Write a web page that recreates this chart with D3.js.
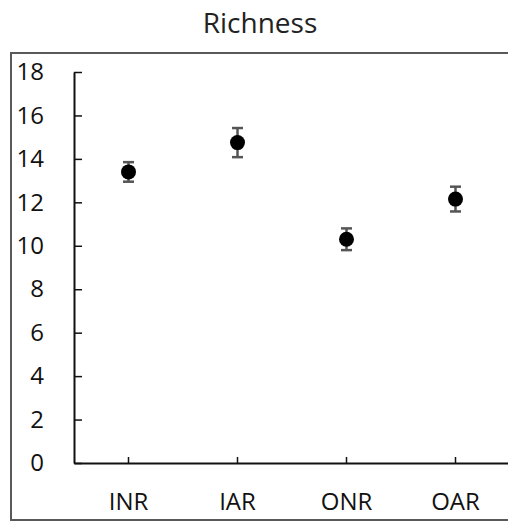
<!DOCTYPE html>
<html>
<head>
<meta charset="utf-8">
<script src="https://cdn.jsdelivr.net/npm/d3@7"></script>
<style>
  body { margin: 0; background: #fff; }
</style>
</head>
<body>
<div id="chart"></div>
<script>
// data
var sites = ["INR", "IAR", "ONR", "OAR"];
var means = [13.4, 14.75, 10.3, 12.15];
var errors = [0.45, 0.67, 0.5, 0.57];
var yTicks = [0, 2, 4, 6, 8, 10, 12, 14, 16, 18];

var W = 508, H = 523;
var margin = { top: 72, bottom: 60, left: 74, right: -2 };
var font = "'Open Sans', sans-serif";

var svg = d3.select("#chart")
    .append("svg")
    .attr("width", W)
    .attr("height", H)
    .style("font-family", font);

// outer frame
svg.append("rect")
    .attr("x", 11)
    .attr("y", 53)
    .attr("width", 510)
    .attr("height", 467)
    .attr("fill", "none")
    .attr("stroke", "#595959")
    .attr("stroke-width", 2);

// title
svg.append("text")
    .attr("x", 260)
    .attr("y", 33)
    .attr("text-anchor", "middle")
    .attr("font-size", 28)
    .attr("fill", "#222")
    .text("Richness");

var xScale = d3.scaleBand()
    .domain(sites)
    .range([margin.left, W - margin.right]);

var yScale = d3.scaleLinear()
    .domain([0, 18])
    .range([H - margin.bottom, margin.top]);

// y axis
var yAxis = svg.append("g")
    .attr("transform", "translate(" + margin.left + ",0)")
    .call(d3.axisRight(yScale).tickValues(yTicks).tickSize(8).tickSizeOuter(0))
    .attr("font-family", font);
yAxis.select(".domain").attr("stroke", "#111").attr("stroke-width", 2);
yAxis.selectAll(".tick line").attr("stroke", "#111").attr("stroke-width", 1.5);
yAxis.selectAll(".tick text")
    .attr("x", -30)
    .attr("text-anchor", "end")
    .attr("font-size", 24)
    .attr("fill", "#111");

// x axis
var xAxis = svg.append("g")
    .attr("transform", "translate(0," + yScale(0) + ")")
    .call(d3.axisTop(xScale).tickSize(6).tickSizeOuter(0))
    .attr("font-family", font);
xAxis.select(".domain").attr("stroke", "#111").attr("stroke-width", 2);
xAxis.selectAll(".tick line").attr("stroke", "#111").attr("stroke-width", 1.5);
xAxis.selectAll(".tick text")
    .attr("y", 47)
    .attr("font-size", 24)
    .attr("fill", "#111");

// error bars
var pts = sites.map(function(s, i) {
    return { site: s, mean: means[i], err: errors[i] };
});
var cx = function(d) { return xScale(d.site) + xScale.bandwidth() / 2; };

var eb = svg.append("g").attr("stroke", "#555").attr("stroke-width", 2.5);
eb.selectAll("line.v")
    .data(pts)
    .enter().append("line")
    .attr("x1", cx).attr("x2", cx)
    .attr("y1", function(d) { return yScale(d.mean + d.err); })
    .attr("y2", function(d) { return yScale(d.mean - d.err); });
eb.selectAll("line.top")
    .data(pts)
    .enter().append("line")
    .attr("x1", function(d) { return cx(d) - 5.5; })
    .attr("x2", function(d) { return cx(d) + 5.5; })
    .attr("y1", function(d) { return yScale(d.mean + d.err); })
    .attr("y2", function(d) { return yScale(d.mean + d.err); });
eb.selectAll("line.bot")
    .data(pts)
    .enter().append("line")
    .attr("x1", function(d) { return cx(d) - 5.5; })
    .attr("x2", function(d) { return cx(d) + 5.5; })
    .attr("y1", function(d) { return yScale(d.mean - d.err); })
    .attr("y2", function(d) { return yScale(d.mean - d.err); });

// points
svg.selectAll("circle.pt")
    .data(pts)
    .enter().append("circle")
    .attr("cx", cx)
    .attr("cy", function(d) { return yScale(d.mean); })
    .attr("r", 7.5)
    .attr("fill", "#000");
</script>
</body>
</html>
